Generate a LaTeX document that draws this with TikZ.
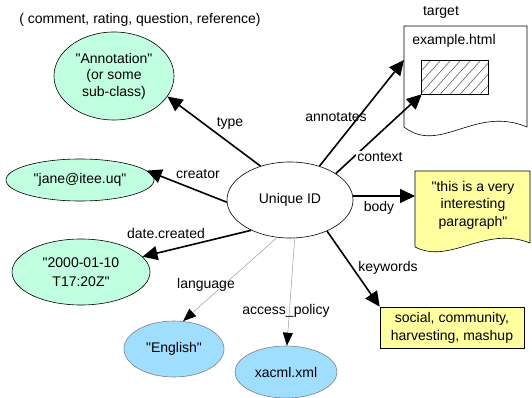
\documentclass[tikz,border=0pt]{standalone}
\usepackage{fontspec}
\setmainfont{Liberation Sans}[Ligatures=TeXOff]
\usetikzlibrary{arrows.meta,shapes.geometric}
\definecolor{mint}{RGB}{192,255,224}
\definecolor{skyb}{RGB}{160,222,255}
\definecolor{paleyel}{RGB}{255,255,160}
\begin{document}
\begin{tikzpicture}[x=1pt,y=-1pt,
  every node/.style={font=\fontsize{14}{16.5}\selectfont},
  ell/.style={ellipse, draw, line width=0.6pt, inner sep=0pt, align=center},
  tarrow/.style={line width=1.6pt, -{Triangle[length=15pt,width=14pt]}},
  garrow/.style={draw=black!40, line width=0.5pt, -{Triangle[length=13pt,width=10pt,color=black]}},
  lbl/.style={inner sep=1pt}
]
\useasboundingbox (0,0) rectangle (532,398);

% target document
\draw[fill=white, line width=0.6pt] (404,26) -- (527,26) -- (527,127)
  .. controls (475,105) and (440,155) .. (404,127) -- cycle;
\node (exhtml) at (454,41) {example.html};
\node[lbl] (tgtlbl) at (441,12) {target};
\node[minimum width=66pt, minimum height=33pt, inner sep=0pt] (hatch) at (455,77.5) {};
\begin{scope}
  \clip (hatch.south west) rectangle (hatch.north east);
  \foreach \i in {0,...,11}
    \draw[black!70, line width=0.5pt] (395+\i*10,100) -- ++(45,-50);
\end{scope}
\draw[line width=1pt] (hatch.south west) rectangle (hatch.north east);
\coordinate (tgtW) at (404,60);

% body document
\draw[fill=paleyel, line width=0.6pt] (415,171) -- (530,171) -- (530,243)
  .. controls (485,225) and (450,265) .. (415,247) -- cycle;
\node[align=center, font=\fontsize{14}{17.5}\selectfont] (bodytxt) at (473,205)
  {"this is a very\\interesting\\paragraph"};
\coordinate (bodyW) at (415,196);

% keywords box
\node[draw, fill=paleyel, line width=0.6pt, minimum width=144pt, minimum height=41pt,
  inner sep=0pt, align=center, font=\fontsize{14}{18}\selectfont] (kw) at (452,327.5)
  {social, community,\\harvesting, mashup};

% ellipses
\node[ell, fill=white, minimum width=126pt, minimum height=76pt] (uid) at (290,200) {Unique ID};
\node[ell, fill=mint, minimum width=120pt, minimum height=88pt] (ann) at (114,76)
  {"Annotation"\\(or some\\sub-class)};
\node[ell, fill=mint, minimum width=148pt, minimum height=42pt] (jane) at (80,180) {"jane@itee.uq"};
\node[ell, fill=mint, minimum width=138pt, minimum height=66pt,
  font=\fontsize{14}{19}\selectfont] (date) at (81,272) {"2000-01-10\\T17:20Z"};
\node[ell, draw=black!50, fill=skyb, minimum width=100pt, minimum height=56pt] (eng) at (174,349) {"English"};
\node[ell, draw=black!50, fill=skyb, minimum width=102pt, minimum height=52pt] (xac) at (286,372) {xacml.xml};

% connectors
\draw[tarrow] (uid.131) -- (ann.339);
\draw[tarrow] (uid.182) -- (jane.8);
\draw[tarrow] (uid.218) -- (date.14);
\draw[garrow] (uid.251) -- (eng.72);
\draw[garrow] (uid.277) -- (xac.88);
\draw[tarrow] (uid.320) -- (kw.north west);
\draw[tarrow] (uid.east |- bodyW) -- (bodyW);
\draw[tarrow] (uid.49) -- (tgtW);
\draw[tarrow] (uid.30) -- (hatch.south west);

% labels
\node[lbl] (lcomm) at (140,20) {( comment, rating, question, reference)};
\node[lbl] (ltype) at (230,123) {type};
\node[lbl] (lcreator) at (198,174) {creator};
\node[lbl] (ldate) at (166,233) {date.created};
\node[lbl] (llang) at (206,285) {language};
\node[lbl] (lacc) at (286,311) {access\_policy};
\node[lbl] (lkw) at (388,268) {keywords};
\node[lbl] (lbody) at (379,208) {body};
\node[lbl] (lann) at (336,117) {annotates};
\node[lbl, fill=white] (lctx) at (380,157) {context};
\end{tikzpicture}
\end{document}
